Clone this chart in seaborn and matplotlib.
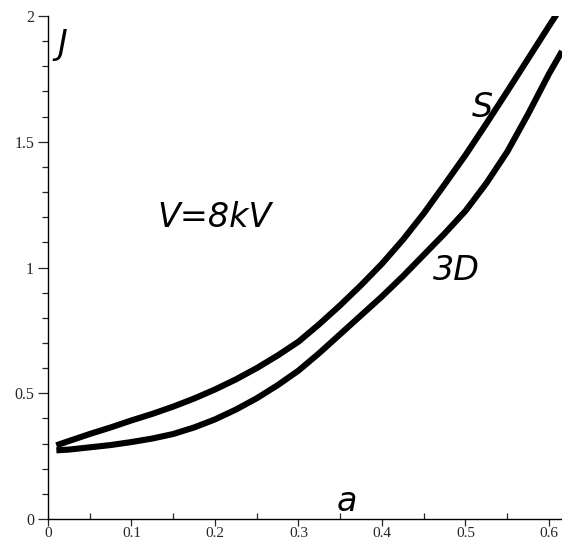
import numpy as np
import pandas as pd
import matplotlib
matplotlib.use("Agg")
import matplotlib.pyplot as plt
import seaborn as sns
from matplotlib.ticker import MultipleLocator

# data
a_vals = [0.01, 0.025, 0.05, 0.075, 0.10, 0.125, 0.15, 0.175, 0.20, 0.225, 0.25,
          0.275, 0.30, 0.325, 0.35, 0.375, 0.40, 0.425, 0.45, 0.475, 0.50, 0.525,
          0.55, 0.575, 0.60, 0.6156]
J_S  = [0.293, 0.310, 0.338, 0.364, 0.392, 0.418, 0.447, 0.479, 0.515, 0.555, 0.600,
        0.650, 0.705, 0.775, 0.850, 0.930, 1.015, 1.110, 1.215, 1.330, 1.447, 1.572,
        1.700, 1.830, 1.960, 2.040]
J_3D = [0.273, 0.276, 0.285, 0.294, 0.306, 0.320, 0.338, 0.364, 0.396, 0.435, 0.480,
        0.532, 0.590, 0.660, 0.735, 0.810, 0.885, 0.965, 1.050, 1.135, 1.225, 1.335,
        1.460, 1.610, 1.770, 1.860]

x_ticks = [0, 0.1, 0.2, 0.3, 0.4, 0.5, 0.6]
x_tick_labels = ["0", "0.1", "0.2", "0.3", "0.4", "0.5", "0.6"]
y_ticks = [0, 0.5, 1.0, 1.5, 2.0]
y_tick_labels = ["0", "0.5", "1", "1.5", "2"]

df = pd.DataFrame({
    "a": a_vals * 2,
    "J": J_S + J_3D,
    "model": ["S"] * len(a_vals) + ["3D"] * len(a_vals),
})

sns.set_style("white")
W, H = 562, 545
fig = plt.figure(figsize=(W / 100, H / 100), dpi=100)
ax = fig.add_axes([48 / W, 26 / H, (W - 48) / W, (519 - 16) / H])

sns.lineplot(data=df, x="a", y="J", units="model", estimator=None,
             color="black", linewidth=4.4, ax=ax, legend=False, sort=False,
             solid_capstyle="butt", solid_joinstyle="round")

ax.set_xlim(0, 0.6156)
ax.set_ylim(0, 2.0)
ax.set_xlabel("")
ax.set_ylabel("")
ax.set_xticks(x_ticks)
ax.set_xticklabels(x_tick_labels)
ax.set_yticks(y_ticks)
ax.set_yticklabels(y_tick_labels)
ax.xaxis.set_minor_locator(MultipleLocator(0.05))
ax.yaxis.set_minor_locator(MultipleLocator(0.1))

for s in ["top", "right"]:
    ax.spines[s].set_visible(False)
for s in ["left", "bottom"]:
    ax.spines[s].set_linewidth(1.0)
    ax.spines[s].set_color("black")

ax.tick_params(axis="x", which="major", direction="out", length=5, width=0.9, pad=1,
               bottom=True, labelsize=11)
ax.tick_params(axis="x", which="minor", direction="in", length=4, width=0.9, bottom=True)
ax.tick_params(axis="y", which="major", direction="out", length=7, width=0.9, pad=3,
               left=True, labelsize=11.5)
ax.tick_params(axis="y", which="minor", direction="out", length=4, width=0.9, left=True)
for lab in ax.get_xticklabels() + ax.get_yticklabels():
    lab.set_fontfamily("Liberation Serif")

txt = dict(family="DejaVu Sans", style="italic", fontsize=24, color="black",
           ha="center", va="center")
ax.text(0.0175, 1.885, "J", **txt)
ax.text(0.5198, 1.638, "S", **txt)
ax.text(0.4886, 0.990, "3D", **txt)
ax.text(0.199, 1.197, "V=8kV", **txt)
ax.text(0.358, 0.070, "a", **txt)

fig.savefig("out.png", dpi=100)
